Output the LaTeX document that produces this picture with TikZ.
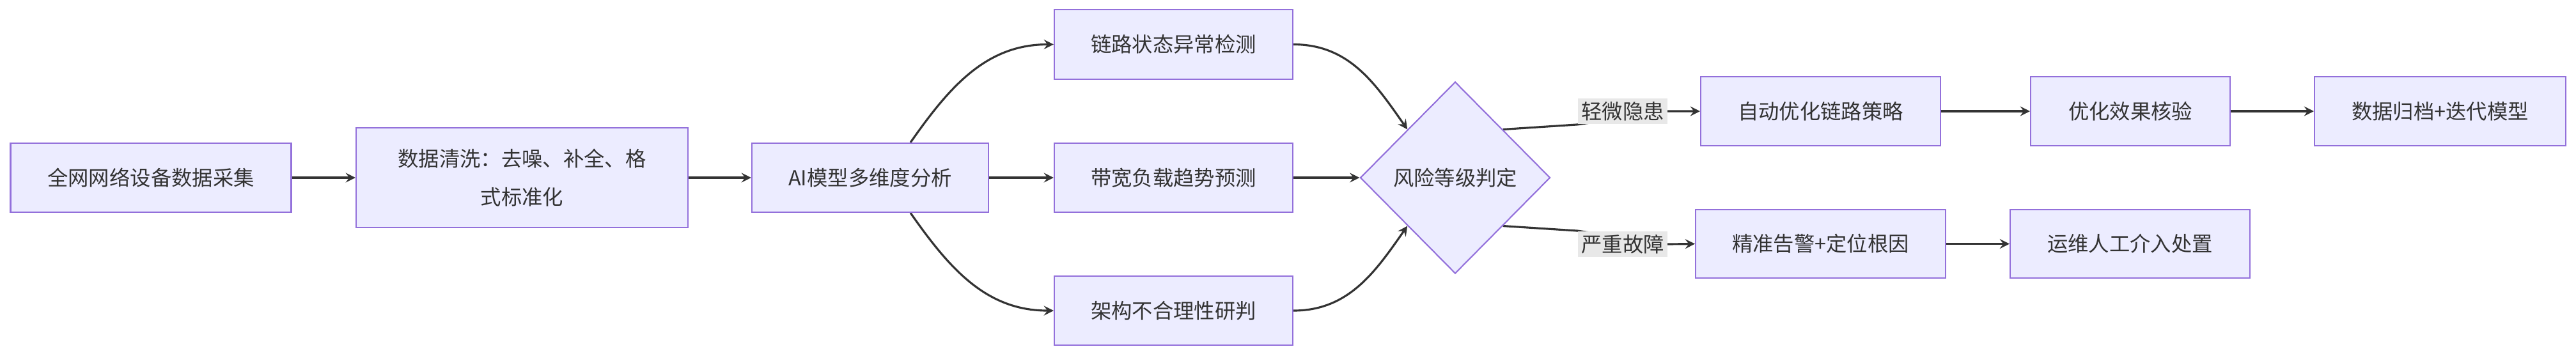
\documentclass[tikz,border=0pt]{standalone}
\usepackage{fontspec}
\setmainfont{Noto Sans CJK SC}
\usetikzlibrary{shapes.geometric,backgrounds}
\definecolor{boxfill}{HTML}{ECECFF}
\definecolor{boxline}{HTML}{9370DB}
\definecolor{txt}{HTML}{333333}
\definecolor{lblfill}{HTML}{E8E8E8}
\begin{document}
\begin{tikzpicture}
          [font=\fontsize{9.2}{17}\selectfont, text=txt,
          box/.style={shape=rectangle,draw=boxline,fill=boxfill,line width=0.6pt,inner sep=0pt,align=center},
          judge/.style={shape=diamond,draw=boxline,fill=boxfill,line width=0.6pt,aspect=1,inner sep=0pt,minimum width=2.97cm,minimum height=3cm},
          lbl/.style={fill=lblfill,inner sep=1.5pt},
          arc/.style={->,>=stealth,line width=0.9pt,draw=txt}]

            \useasboundingbox (0,0) rectangle (40.29,-5.56);

            \node (collect) [box,minimum width=4.39cm,minimum height=1.08cm] at (2.36,-2.78) {全网网络设备数据采集};
            \node (clean) [box,minimum width=5.19cm,minimum height=1.56cm] at (8.165,-2.78) {数据清洗：去噪、补全、格\\式标准化};
            \node (ai) [box,minimum width=3.70cm,minimum height=1.08cm] at (13.61,-2.78) {AI模型多维度分析};
            \node (link) [box,minimum width=3.73cm,minimum height=1.09cm] at (18.355,-0.695) {链路状态异常检测};
            \node (band) [box,minimum width=3.73cm,minimum height=1.08cm] at (18.355,-2.78) {带宽负载趋势预测};
            \node (arch) [box,minimum width=3.73cm,minimum height=1.08cm] at (18.355,-4.86) {架构不合理性研判};
            \node (risk) [judge] at (22.76,-2.78) {风险等级判定};
            \node (minor) [lbl] at (25.38,-1.74) {轻微隐患};
            \node (major) [lbl] at (25.38,-3.82) {严重故障};
            \node (auto) [box,minimum width=3.75cm,minimum height=1.08cm] at (28.475,-1.74) {自动优化链路策略};
            \node (check) [box,minimum width=3.12cm,minimum height=1.08cm] at (33.32,-1.74) {优化效果核验};
            \node (archive) [box,minimum width=3.93cm,minimum height=1.08cm] at (38.165,-1.74) {数据归档+迭代模型};
            \node (alarm) [box,minimum width=3.91cm,minimum height=1.07cm] at (28.475,-3.815) {精准告警+定位根因};
            \node (manual) [box,minimum width=3.75cm,minimum height=1.07cm] at (33.315,-3.815) {运维人工介入处置};

            \begin{pgfonlayer}{background}
            \draw [arc] (collect) -- (clean);
            \draw [arc] (clean) -- (ai);
            \draw [arc] ([xshift=6.3mm]ai.north) to [out=55,in=180] (link.west);
            \draw [arc] (ai) -- (band);
            \draw [arc] ([xshift=6.3mm]ai.south) to [out=-55,in=180] (arch.west);
            \draw [arc] (link.east) to [out=0,in=125] (risk.north west);
            \draw [arc] (band) -- (risk);
            \draw [arc] (arch.east) to [out=0,in=-125] (risk.south west);
            \draw [arc] (risk.north east) -- (minor.south west) -- (minor.east) -- (auto.west);
            \draw [arc] (risk.south east) -- (major.north west) -- (major.east) -- (alarm.west);
            \draw [arc] (auto) -- (check);
            \draw [arc] (check) -- (archive);
            \draw [arc] (alarm) -- (manual);
            \end{pgfonlayer}

        \end{tikzpicture}
\end{document}
